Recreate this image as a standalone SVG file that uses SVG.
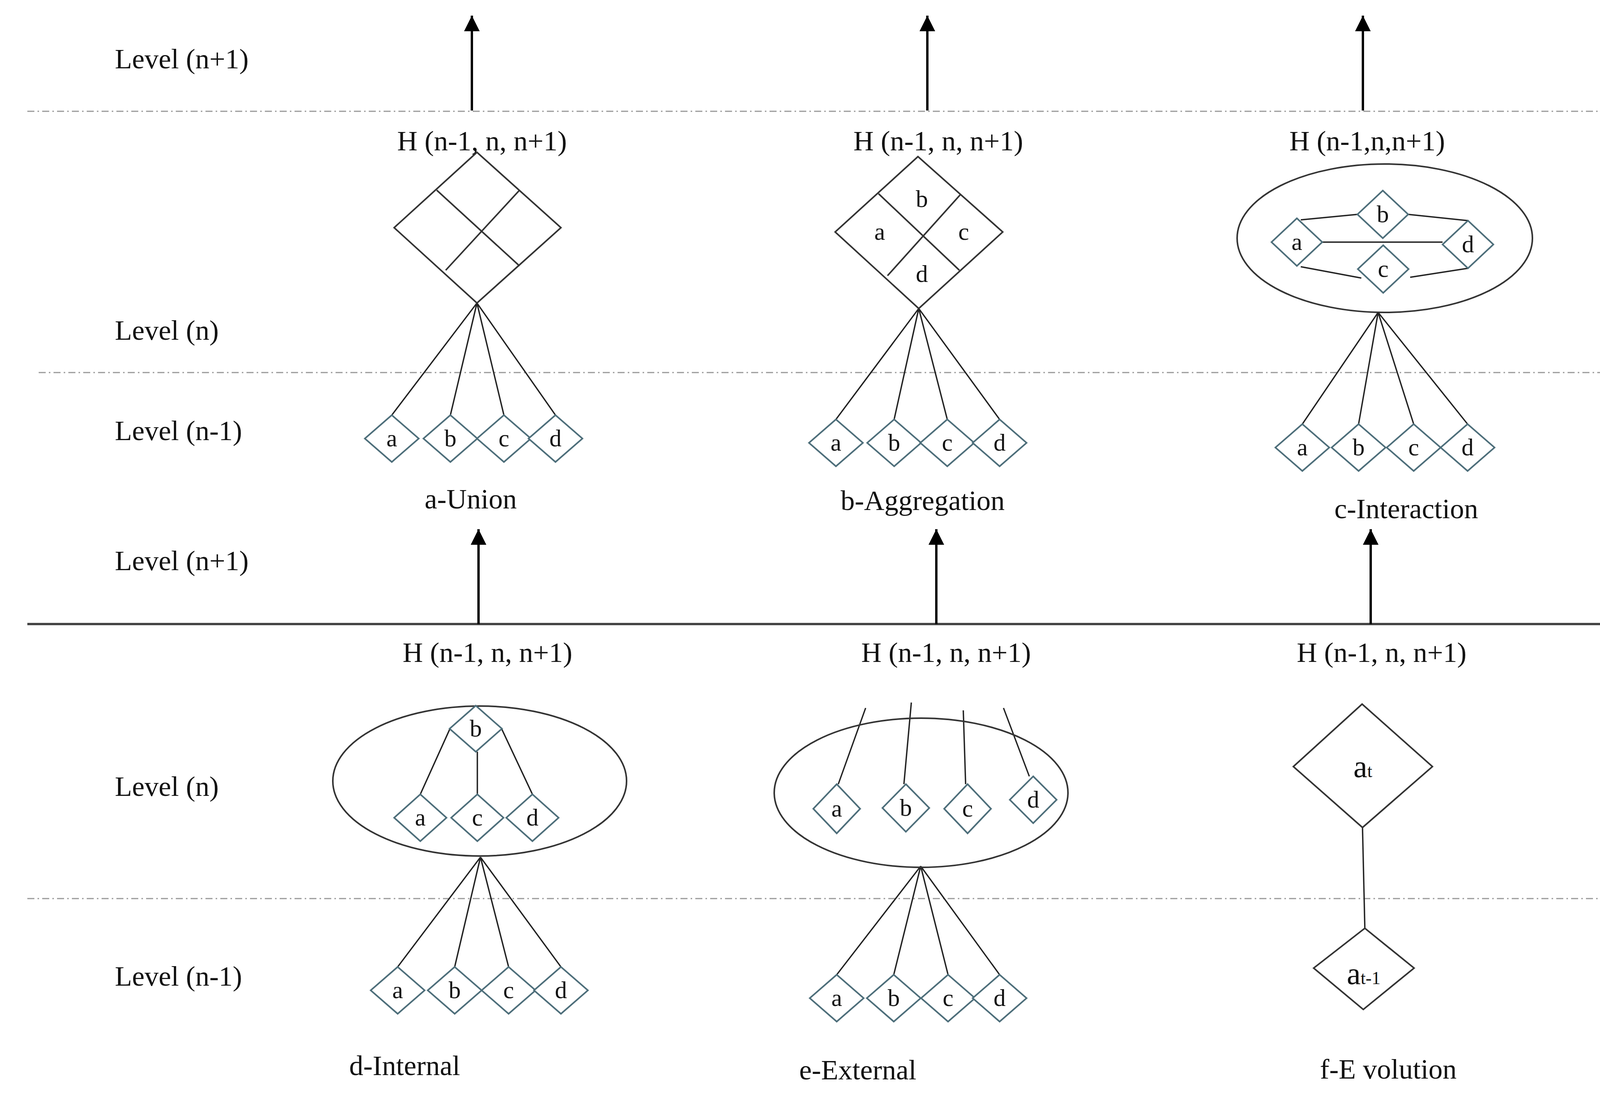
<svg xmlns="http://www.w3.org/2000/svg" width="4404" height="2804" viewBox="0 0 4404 2804">
<defs>
<marker id="arr" viewBox="0 0 10 10" refX="10" refY="5" markerWidth="56" markerHeight="40" markerUnits="userSpaceOnUse" orient="auto"><path d="M0,0 L10,5 L0,10 z" fill="#000"/></marker>
</defs>
<style>
text{font-family:"Liberation Serif","DejaVu Serif",serif;fill:#111}
.lbl{font-size:72px}
.sm{font-size:62px;text-anchor:middle}
.mid{text-anchor:middle}
.dash{stroke:#999;stroke-width:3;stroke-dasharray:18 8 4 8;fill:none}
.big{fill:none;stroke:#333;stroke-width:4}
.sd{fill:#fff;stroke:#4d6e7a;stroke-width:4}
.ln{stroke:#222;stroke-width:3.5;fill:none}
.ar{stroke:#000;stroke-width:6;marker-end:url(#arr)}
</style>
<rect width="4404" height="2804" fill="#fff"/>
<g id="levels">
<line class="dash" x1="70" y1="285" x2="4370" y2="285"/>
<line class="dash" x1="99" y1="954" x2="4370" y2="954"/>
<line x1="70" y1="1598" x2="4370" y2="1598" stroke="#444" stroke-width="6"/>
<line class="dash" x1="70" y1="2301" x2="4370" y2="2301"/>
<text class="lbl" x="294" y="175">Level (n+1)</text>
<text class="lbl" x="294" y="870">Level (n)</text>
<text class="lbl" x="294" y="1127">Level (n-1)</text>
<text class="lbl" x="294" y="1460">Level (n+1)</text>
<text class="lbl" x="294" y="2038">Level (n)</text>
<text class="lbl" x="294" y="2524">Level (n-1)</text>
</g>
<g id="connectors">
<line class="ar" x1="1208" y1="283" x2="1208" y2="40"/>
<line class="ar" x1="2374" y1="283" x2="2374" y2="40"/>
<line class="ar" x1="3489" y1="283" x2="3489" y2="40"/>
<line class="ar" x1="1225" y1="1598" x2="1225" y2="1355"/>
<line class="ar" x1="2397" y1="1598" x2="2397" y2="1355"/>
<line class="ar" x1="3509" y1="1598" x2="3509" y2="1355"/>
<path class="ln" d="M1221,776 L1003,1063 M1221,776 L1153,1063 M1221,776 L1290,1063 M1221,776 L1422,1063"/>
<path class="ln" d="M2352,790 L2140,1074 M2352,790 L2289,1074 M2352,790 L2425,1074 M2352,790 L2559,1074"/>
<path class="ln" d="M3528,800 L3334,1086 M3528,800 L3478,1086 M3528,800 L3619,1086 M3528,800 L3757,1086"/>
<path class="ln" d="M1230,2195 L1018,2476 M1230,2195 L1164,2476 M1230,2195 L1302,2476 M1230,2195 L1436,2476"/>
<path class="ln" d="M2357,2218 L2142,2496 M2357,2218 L2288,2496 M2357,2218 L2427,2496 M2357,2218 L2559,2496"/>
<path class="ln" d="M3330,563 L3475,549 M3605,549 L3758,565 M3385,620 L3693,620 M3330,683 L3485,712 M3610,710 L3758,687"/>
<path class="ln" d="M1151,1868 L1076,2034 M1222,1925 L1222,2034 M1285,1868 L1363,2034"/>
<path class="ln" d="M2146,2008 L2216,1813 M2314,2008 L2333,1799 M2472,2008 L2466,1819 M2635,1988 L2569,1813"/>
<line class="ln" x1="3488" y1="2119" x2="3494" y2="2377" stroke-width="5"/>
</g>
<g id="union">
<text class="lbl mid" x="1234" y="385">H (n-1, n, n+1)</text>
<polygon class="big" points="1221,390 1436,583 1221,776 1009,583"/>
<path class="big" d="M1118,487 L1330,681 M1330,487 L1141,692"/>
<g id="union-children">
<polygon class="sd" points="1003,1063 1072,1123 1003,1183 934,1123"/><text class="sm" x="1003" y="1143">a</text>
<polygon class="sd" points="1153,1063 1222,1123 1153,1183 1084,1123"/><text class="sm" x="1153" y="1143">b</text>
<polygon class="sd" points="1290,1063 1359,1123 1290,1183 1221,1123"/><text class="sm" x="1290" y="1143">c</text>
<polygon class="sd" points="1422,1063 1491,1123 1422,1183 1353,1123"/><text class="sm" x="1422" y="1143">d</text>
</g>
<text class="lbl mid" x="1205" y="1302">a-Union</text>
</g>
<g id="aggregation">
<text class="lbl mid" x="2402" y="385">H (n-1, n, n+1)</text>
<polygon class="big" points="2350,401 2567,594 2352,790 2138,594"/>
<path class="big" d="M2249,496 L2456,692 M2458,499 L2272,706"/>
<text class="sm" x="2360" y="530">b</text>
<text class="sm" x="2252" y="614">a</text>
<text class="sm" x="2467" y="614">c</text>
<text class="sm" x="2360" y="722">d</text>
<g id="aggregation-children">
<polygon class="sd" points="2140,1074 2209,1134 2140,1194 2071,1134"/><text class="sm" x="2140" y="1154">a</text>
<polygon class="sd" points="2289,1074 2358,1134 2289,1194 2220,1134"/><text class="sm" x="2289" y="1154">b</text>
<polygon class="sd" points="2425,1074 2494,1134 2425,1194 2356,1134"/><text class="sm" x="2425" y="1154">c</text>
<polygon class="sd" points="2559,1074 2628,1134 2559,1194 2490,1134"/><text class="sm" x="2559" y="1154">d</text>
</g>
<text class="lbl mid" x="2362" y="1306">b-Aggregation</text>
</g>
<g id="interaction">
<text class="lbl mid" x="3500" y="385">H (n-1,n,n+1)</text>
<ellipse class="big" cx="3545" cy="610" rx="378" ry="190"/>
<polygon class="sd" points="3540,488 3605,549 3540,610 3475,549"/><text class="sm" x="3540" y="569">b</text>
<polygon class="sd" points="3320,559 3385,620 3320,681 3255,620"/><text class="sm" x="3320" y="640">a</text>
<polygon class="sd" points="3758,565 3823,626 3758,687 3693,626"/><text class="sm" x="3758" y="646">d</text>
<polygon class="sd" points="3541,628 3606,689 3541,750 3476,689"/><text class="sm" x="3541" y="709">c</text>
<g id="interaction-children">
<polygon class="sd" points="3334,1086 3403,1146 3334,1206 3265,1146"/><text class="sm" x="3334" y="1166">a</text>
<polygon class="sd" points="3478,1086 3547,1146 3478,1206 3409,1146"/><text class="sm" x="3478" y="1166">b</text>
<polygon class="sd" points="3619,1086 3688,1146 3619,1206 3550,1146"/><text class="sm" x="3619" y="1166">c</text>
<polygon class="sd" points="3757,1086 3826,1146 3757,1206 3688,1146"/><text class="sm" x="3757" y="1166">d</text>
</g>
<text class="lbl mid" x="3600" y="1327">c-Interaction</text>
</g>
<g id="internal">
<text class="lbl mid" x="1248" y="1695">H (n-1, n, n+1)</text>
<ellipse class="big" cx="1228" cy="2000" rx="376" ry="192"/>
<polygon class="sd" points="1218,1807 1285,1866 1218,1925 1151,1866"/><text class="sm" x="1218" y="1886">b</text>
<polygon class="sd" points="1076,2034 1143,2094 1076,2154 1009,2094"/><text class="sm" x="1076" y="2114">a</text>
<polygon class="sd" points="1222,2034 1289,2094 1222,2154 1155,2094"/><text class="sm" x="1222" y="2114">c</text>
<polygon class="sd" points="1363,2034 1430,2094 1363,2154 1296,2094"/><text class="sm" x="1363" y="2114">d</text>
<g id="internal-children">
<polygon class="sd" points="1018,2476 1087,2536 1018,2596 949,2536"/><text class="sm" x="1018" y="2556">a</text>
<polygon class="sd" points="1164,2476 1233,2536 1164,2596 1095,2536"/><text class="sm" x="1164" y="2556">b</text>
<polygon class="sd" points="1302,2476 1371,2536 1302,2596 1233,2536"/><text class="sm" x="1302" y="2556">c</text>
<polygon class="sd" points="1436,2476 1505,2536 1436,2596 1367,2536"/><text class="sm" x="1436" y="2556">d</text>
</g>
<text class="lbl mid" x="1036" y="2753">d-Internal</text>
</g>
<g id="external">
<text class="lbl mid" x="2422" y="1695">H (n-1, n, n+1)</text>
<ellipse class="big" cx="2358" cy="2030" rx="376" ry="191"/>
<polygon class="sd" points="2142,2008 2202,2071 2142,2134 2082,2071"/><text class="sm" x="2142" y="2091">a</text>
<polygon class="sd" points="2319,2008 2379,2069 2319,2130 2259,2069"/><text class="sm" x="2319" y="2089">b</text>
<polygon class="sd" points="2477,2008 2537,2071 2477,2134 2417,2071"/><text class="sm" x="2477" y="2091">c</text>
<polygon class="sd" points="2645,1988 2705,2048 2645,2108 2585,2048"/><text class="sm" x="2645" y="2068">d</text>
<g id="external-children">
<polygon class="sd" points="2142,2496 2211,2556 2142,2616 2073,2556"/><text class="sm" x="2142" y="2576">a</text>
<polygon class="sd" points="2288,2496 2357,2556 2288,2616 2219,2556"/><text class="sm" x="2288" y="2576">b</text>
<polygon class="sd" points="2427,2496 2496,2556 2427,2616 2358,2556"/><text class="sm" x="2427" y="2576">c</text>
<polygon class="sd" points="2559,2496 2628,2556 2559,2616 2490,2556"/><text class="sm" x="2559" y="2576">d</text>
</g>
<text class="lbl mid" x="2196" y="2764">e-External</text>
</g>
<g id="evolution">
<text class="lbl mid" x="3537" y="1695">H (n-1, n, n+1)</text>
<polygon class="big" points="3487,1803 3667,1963 3488,2119 3311,1963"/>
<text class="mid" x="3489" y="1990" font-size="80">a<tspan font-size="46">t</tspan></text>
<polygon class="big" points="3494,2377 3620,2479 3490,2585 3363,2479"/>
<text class="mid" x="3491" y="2520" font-size="80">a<tspan font-size="46">t-1</tspan></text>
<text class="lbl mid" x="3554" y="2762">f-E volution</text>
</g>
</svg>
